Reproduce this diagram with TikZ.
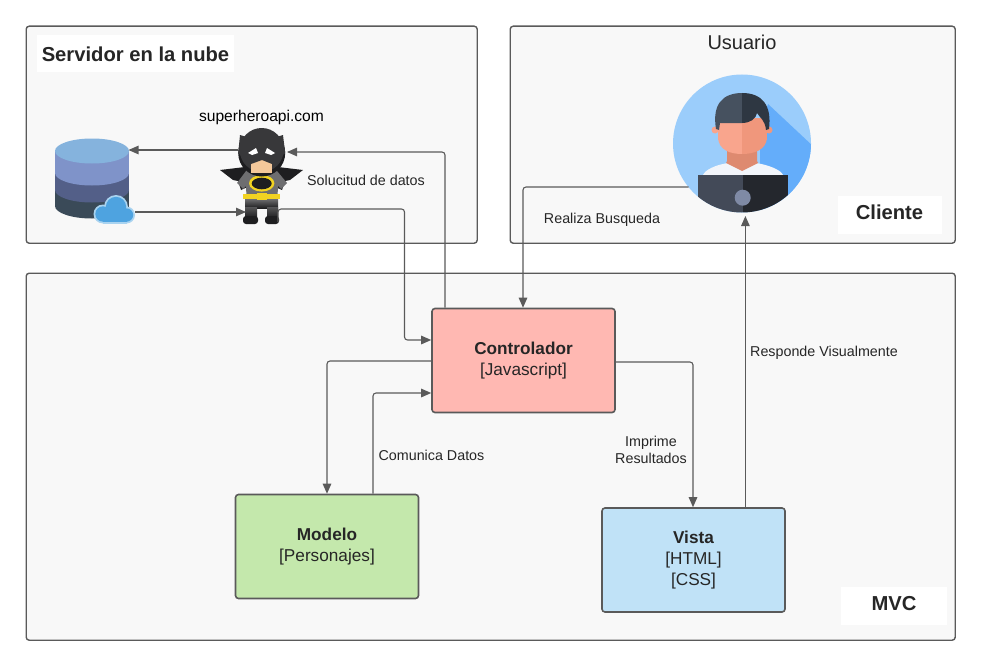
\documentclass[tikz,border=0pt]{standalone}
\usepackage{fontspec}
\setmainfont{Liberation Sans}
\usetikzlibrary{arrows.meta,calc}
\definecolor{edge}{HTML}{5A5A5A}
\definecolor{panel}{HTML}{F8F8F8}
\definecolor{ctrl}{HTML}{FFB8B2}
\definecolor{model}{HTML}{C4E8AC}
\definecolor{view}{HTML}{C0E2F7}
\definecolor{textc}{HTML}{262626}
\definecolor{batdark}{HTML}{38383A}
\definecolor{batblack}{HTML}{1E1E20}
\definecolor{batgray}{HTML}{6E6E70}
\definecolor{batyellow}{HTML}{F2D322}
\definecolor{batskin}{HTML}{F4C89A}
\definecolor{dbA}{HTML}{85B3DD}
\definecolor{dbB}{HTML}{7F93C9}
\definecolor{dbC}{HTML}{535F88}
\definecolor{dbD}{HTML}{3A4A58}
\definecolor{cloudA}{HTML}{4EA3E0}
\definecolor{cloudB}{HTML}{A9D3F0}
\definecolor{avbg}{HTML}{9BCDFB}
\definecolor{avsh}{HTML}{64ADFA}
\definecolor{hairL}{HTML}{46515F}
\definecolor{hairR}{HTML}{2E3742}
\definecolor{skinL}{HTML}{F9A58D}
\definecolor{skinR}{HTML}{F0977C}
\definecolor{neckc}{HTML}{DE8A70}
\definecolor{shirtc}{HTML}{F2F5FA}
\definecolor{lapL}{HTML}{434A58}
\definecolor{lapR}{HTML}{24272D}
\definecolor{lapC}{HTML}{7F8AA5}
\tikzset{
  panelbox/.style={draw=edge,line width=1.4pt,fill=panel,rounded corners=3pt,anchor=north west,inner sep=0pt},
  mvcbox/.style={draw=edge,line width=1.6pt,rounded corners=3pt,inner sep=0pt,minimum width=183pt,minimum height=104pt,align=center,font=\fontsize{17.2}{21}\selectfont,text=textc},
  link/.style={draw=edge,line width=1.1pt,rounded corners=3pt,-{Triangle[length=10pt,width=8.5pt]}},
  lab/.style={font=\fontsize{14.3}{17}\selectfont,text=textc,align=center,inner sep=0pt},
  tag/.style={fill=white,font=\bfseries\fontsize{20.2}{24}\selectfont,text=textc,inner sep=0pt}
}
\begin{document}
\begin{tikzpicture}[x=1pt,y=-1pt]
\useasboundingbox (0,0) rectangle (981,666);
\fill[white] (0,0) rectangle (981,666);
% panels
\node[panelbox,minimum width=451pt,minimum height=217pt] (srv) at (25.5,25.5) {};
\node[panelbox,minimum width=445pt,minimum height=217pt] (usr) at (509.5,25.5) {};
\node[panelbox,minimum width=929pt,minimum height=367pt] (mvc) at (25.5,272.5) {};
% tags
\node[tag,minimum width=197pt,minimum height=37pt] (t1) at (135.5,54) {Servidor en la nube};
\node[tag,minimum width=104pt,minimum height=38pt,text depth=4pt] (t2) at (889.5,214.5) {Cliente};
\node[tag,minimum width=106pt,minimum height=38pt,text depth=4pt] (t3) at (894,605.5) {MVC};
\node[font=\fontsize{20}{24}\selectfont,text=textc,inner sep=0pt] (t4) at (742,42.5) {Usuario};
\node[lab,font=\fontsize{15.6}{18}\selectfont,text=black] (api) at (261.5,117) {superheroapi.com};
% mvc boxes
\node[mvcbox,fill=ctrl] (c) at (523.5,360.5) {\textbf{Controlador}\\{[Javascript]}};
\node[mvcbox,fill=model] (m) at (327,546.5) {\textbf{Modelo}\\{[Personajes]}};
\node[mvcbox,fill=view] (v) at (693.5,560) {\textbf{Vista}\\{[HTML]}\\{[CSS]}};
% database
\fill[dbD] (92,206) ellipse [x radius=37pt,y radius=12.5pt];
\fill[dbD] (55,190) rectangle (129,206);
\fill[dbC] (92,190) ellipse [x radius=37pt,y radius=12.5pt];
\fill[dbC] (55,173) rectangle (129,190);
\fill[dbB] (92,173) ellipse [x radius=37pt,y radius=12.5pt];
\fill[dbB] (55,151) rectangle (129,173);
\fill[dbA] (92,151) ellipse [x radius=37pt,y radius=12.5pt];
% cloud
\foreach \cx/\cy/\cr in {103/214/9.5,116/207/12,126.5/215/8.5}{
  \fill[cloudB] (\cx,\cy) circle [radius=\cr pt];}
\fill[cloudB] (103,212) rectangle (127,223.5);
\foreach \cx/\cy/\cr in {103/214/7.7,116/207/10.2,126.5/215/6.7}{
  \fill[cloudA] (\cx,\cy) circle [radius=\cr pt];}
\fill[cloudA] (103,212) rectangle (127,221.7);
% batman: cape
\fill[batblack] (220,170) -- (245,167) -- (252,185) -- (241,190) -- (238,181) -- (233,180) -- cycle;
\fill[batblack] (303,170) -- (278,167) -- (271,185) -- (282,190) -- (285,181) -- (290,180) -- cycle;
% batman: arms and torso
\fill[batgray] (246,171) -- (277,171) -- (287,183) -- (281,189) -- (278,186) -- (277,208) -- (247,208) -- (246,186) -- (243,189) -- (237,183) -- cycle;
% batman: legs and boots
\shade[top color=batgray,bottom color=batblack] (245,199) rectangle (278,208);
\shade[top color=batdark!85,bottom color=batblack] (245,207) rectangle (257,218);
\shade[top color=batdark!85,bottom color=batblack] (267,207) rectangle (278,218);
\fill[batblack,rounded corners=3pt] (243,216) rectangle (258,224);
\fill[batblack,rounded corners=3pt] (265,216) rectangle (279,224);
% batman: belt and emblem
\fill[batyellow] (243,194) rectangle (280,199);
\fill[batyellow] (257,193) rectangle (267,200);
\fill[batyellow] (261.7,183.3) ellipse [x radius=12.7pt,y radius=8.3pt];
\fill[batblack] (261.7,183.5) ellipse [x radius=10pt,y radius=5.8pt];
% batman: head
\fill[batblack] (261.7,153) circle [radius=23.5pt];
\fill[batdark] (238.2,153) -- (240,135) -- (250,138) -- (273,138) -- (283,135) -- (285.2,153) .. controls (285,158) and (238.5,158) .. (238.2,153) -- cycle;
\fill[batdark] (261.7,150) circle [radius=22pt];
\fill[batskin] (251,160) rectangle (272,173);
\fill[batdark] (240,155) -- (283,155) -- (272,164) -- (262,160) -- (251,164) -- cycle;
\fill[white] (248,153) -- (256,148) -- (258,153) -- (252,155) -- cycle;
\fill[white] (275,153) -- (267,148) -- (265,153) -- (271,155) -- cycle;
% avatar
\node[circle,fill=avbg,minimum size=138pt,inner sep=0pt] (av) at (742,143.5) {};
\begin{scope}
\clip (742,143.5) circle [radius=69pt];
\fill[avsh] (768,104) -- (815,148) -- (815,215) -- (760,215) -- (760,130) -- cycle;
\fill[shirtc] (703,175) .. controls (705,170) and (715,165) .. (728,163) -- (756,163) .. controls (769,165) and (781,170) .. (783,175) -- cycle;
\fill[neckc] (727,150) -- (757,150) -- (757,161) -- (758,163) -- (742,171) -- (726,163) -- (727,161) -- cycle;
\fill[skinL] (715,130) circle [radius=3.5pt];
\fill[skinR] (769,130) circle [radius=3.5pt];
\fill[skinL] (718,118) rectangle (742.2,140);
\fill[skinR] (742,118) rectangle (767,140);
\fill[skinL] (718,138) .. controls (719,150) and (730,154) .. (742.2,154) -- (742.2,130) -- cycle;
\fill[skinR] (767,138) .. controls (766,150) and (754,154) .. (742,154) -- (742,130) -- cycle;
\fill[hairL] (716,129) .. controls (712,105) and (722,93) .. (742.2,93) -- (742.2,123) -- (720,123) -- (719,130) -- cycle;
\fill[hairR] (769,129) .. controls (772,105) and (762,93) .. (742,93) -- (742,123) .. controls (750,123) and (756,119) .. (757,113) .. controls (760,118) and (765,120) .. (766,130) -- cycle;
\fill[lapL] (698,174.5) rectangle (743.2,215);
\fill[lapR] (743,174.5) rectangle (788,215);
\end{scope}
\fill[lapC] (742.7,197.7) circle [radius=8pt];
% connector ends
\coordinate (batL) at (238,150);
\coordinate (batR) at (287,152);
\coordinate (batIn) at (246,212);
\coordinate (batFoot) at (278,222);
\coordinate (dbIn) at (128.5,150);
\coordinate (cloudOut) at (135,212);
\coordinate (avOut) at (688.5,187);
\coordinate (avIn) at (745.4,216);
% connectors
\draw[link] (batL) -- (dbIn);
\draw[link] (cloudOut) -- (batIn);
\draw[link] (c.north -| 445,0) |- (batR);
\draw[link] (batFoot) -- (278,209) -- (404.5,209) -- (404.5,340) -- (c.west |- 0,340);
\draw[link] (avOut) -| (c.north -| 523,0);
\draw[link] (c.east |- 0,362) -| (v.north -| 693,0);
\draw[link] (v.north -| 745.4,0) -- (avIn);
\draw[link] (c.west |- 0,361) -| (m.north -| 327,0);
\draw[link] (m.north -| 373,0) |- (c.west |- 0,393);
% labels
\node[lab] (l1) at (366,180) {Solucitud de datos};
\node[lab] (l2) at (602,220) {Realiza Busqueda};
\node[lab] (l3) at (824,353) {Responde Visualmente};
\node[lab] (l4) at (651,449.5) {Imprime\\Resultados};
\node[lab] (l5) at (431.5,455.5) {Comunica Datos};
\end{tikzpicture}
\end{document}
